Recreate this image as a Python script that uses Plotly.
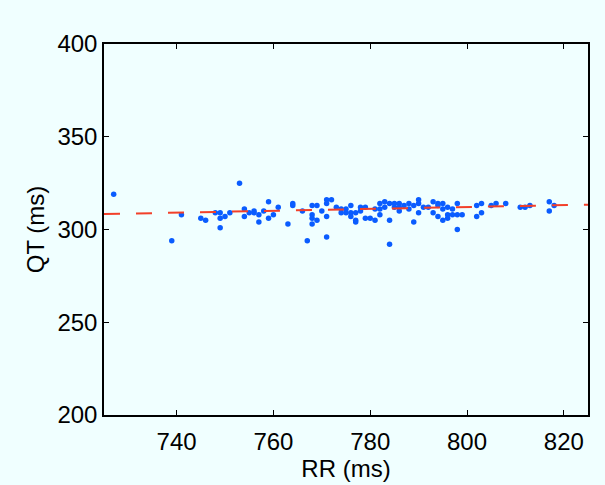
import plotly.graph_objects as go

rr = [727, 739, 741, 745, 746, 748, 749, 749, 749, 750, 751, 753, 754, 754, 755, 756, 756, 757, 757,
      758, 759, 759, 760, 761, 763, 764, 764, 766, 767, 768, 768, 768, 768, 769, 769, 770, 771, 771,
      771, 771, 772, 773, 774, 774, 775, 775, 776, 776, 776, 777, 777, 777, 778, 778, 779, 779, 780,
      781, 781, 782, 782, 782, 783, 783, 784, 784, 784, 785, 785, 786, 786, 786, 787, 788, 788, 789,
      789, 790, 790, 790, 791, 792, 793, 793, 794, 794, 794, 795, 795, 795, 796, 796, 796, 797, 797,
      798, 798, 798, 799, 802, 802, 803, 803, 805, 806, 808, 811, 812, 813, 817, 817, 818]
qt = [319, 294, 308, 306, 305, 309, 309, 306, 301, 307, 309, 325, 311, 307, 309, 310, 309, 308, 304,
      310, 315, 306, 308, 312, 303, 314, 313, 310, 294, 313, 308, 306, 303, 313, 305, 310, 316, 314,
      307, 296, 316, 312, 311, 309, 311, 309, 313, 309, 307, 309, 305, 304, 312, 310, 312, 306, 306,
      311, 305, 314, 311, 308, 315, 312, 314, 305, 292, 314, 312, 314, 312, 310, 313, 314, 311, 313,
      304, 316, 314, 309, 312, 312, 315, 309, 314, 313, 307, 314, 311, 305, 312, 308, 306, 311, 308,
      314, 308, 300, 308, 313, 307, 314, 309, 313, 314, 314, 312, 312, 313, 315, 310, 313]

fit_rr = [725, 825]
fit_qt = [308.3, 313.4]

x_ticks = [740, 760, 780, 800, 820]
y_ticks = [200, 250, 300, 350, 400]

bg = "#f0ffff"
font = "Liberation Sans, Arial, sans-serif"

fig = go.Figure()
fig.add_trace(go.Scatter(x=rr, y=qt, mode="markers",
                         marker=dict(color="#0a5cff", size=5.5, line=dict(width=0)),
                         showlegend=False))
fig.add_trace(go.Scatter(x=fit_rr, y=fit_qt, mode="lines",
                         line=dict(color="#f2402a", width=2, dash="16px,16px"),
                         showlegend=False))

axis_common = dict(showline=True, linecolor="black", linewidth=1.5, mirror="ticks",
                   ticks="inside", ticklen=5, tickcolor="black", tickwidth=1,
                   showgrid=False, zeroline=False,
                   tickfont=dict(family=font, size=24, color="black"))

fig.update_xaxes(range=[725, 825], tickvals=x_ticks,
                 title=dict(text="RR (ms)", font=dict(family=font, size=24, color="black"), standoff=2),
                 ticklabelstandoff=4, **axis_common)
fig.update_yaxes(range=[200, 400], tickvals=y_ticks,
                 title=dict(text="QT (ms)", font=dict(family=font, size=24, color="black"), standoff=6),
                 ticklabelstandoff=0, **axis_common)

fig.update_layout(width=605, height=485, paper_bgcolor=bg, plot_bgcolor=bg,
                  margin=dict(l=104, r=17, t=44, b=67), showlegend=False)

fig.write_html("out.html", config={"displayModeBar": False},
               post_script="document.body.style.margin='0';document.body.style.background='%s';" % bg)
